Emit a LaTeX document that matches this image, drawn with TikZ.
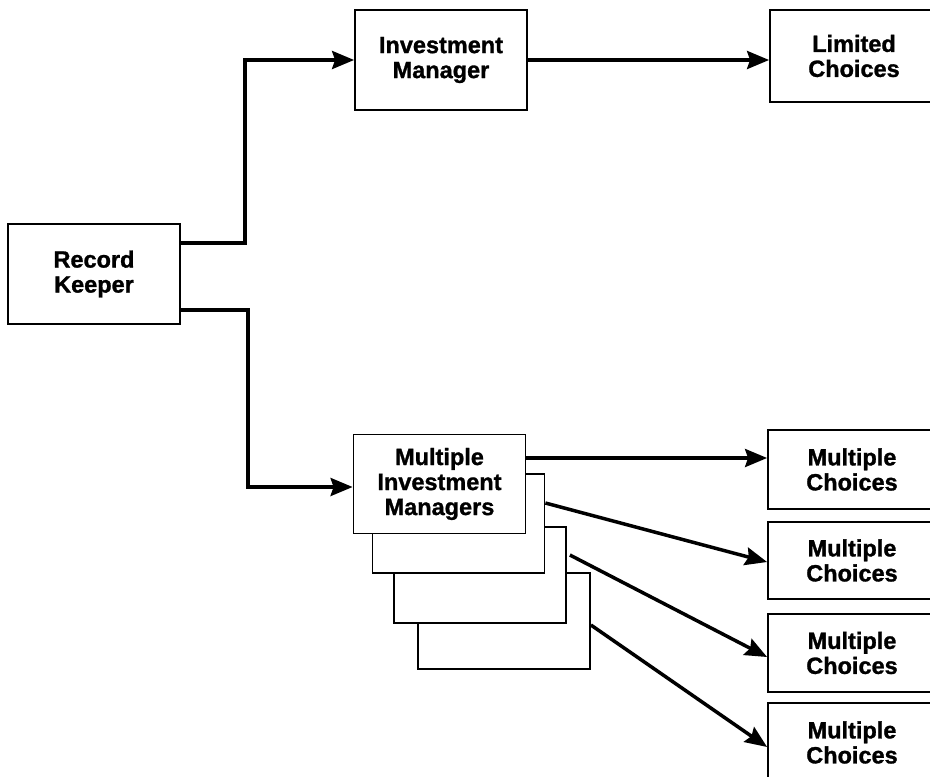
\documentclass[tikz,border=0pt]{standalone}
\usepackage{fontspec}
\setmainfont{Liberation Sans}[BoldFeatures={FakeBold=1.2}]
\usetikzlibrary{arrows.meta}
\begin{document}
\begin{tikzpicture}[x=1pt,y=-1pt,
  box/.style={draw, line width=1.8pt, fill=white, align=center, inner sep=0pt,
    font=\fontsize{23.5}{25}\selectfont\bfseries},
  wide/.style={box, minimum width=172pt, minimum height=99pt},
  choice/.style={box, minimum width=168pt, minimum height=79pt},
  link/.style={line width=3.5pt, -{Stealth[length=22pt,width=18pt,inset=3pt]}}]
\useasboundingbox (0,0) rectangle (930,777);
\clip (0,0) rectangle (930,777);

% source and the single-manager branch
\node[wide, minimum height=100pt] (rk) at (94,274) {Record\\Keeper};
\node[wide, minimum height=100pt] (im) at (441,60) {Investment\\Manager};
\node[choice, minimum height=92pt] (lc) at (854,56) {Limited\\Choices};

% stacked manager boxes, back to front
\node[wide, minimum height=96pt] (m4) at (504,621) {};
\node[wide, minimum height=96pt] (m3) at (480,575) {};
\node[wide] (m2) at (458.5,523.5) {};
\node[wide] (mim) at (439.5,484) {Multiple\\Investment\\Managers};

% choice boxes
\node[choice] (c1) at (852,469.5) {Multiple\\Choices};
\node[choice, minimum height=77pt] (c2) at (852,560.5) {Multiple\\Choices};
\node[choice, minimum height=78pt] (c3) at (852,653) {Multiple\\Choices};
\node[choice] (c4) at (852,742.5) {Multiple\\Choices};

% elbow points of the two branches
\coordinate (j1) at (245,243);
\coordinate (j2) at (248,310);

\draw[link] ([yshift=31pt]rk.east) -- (j1) |- (im.west);
\draw[link] ([yshift=-36pt]rk.east) -- (j2) |- ([yshift=-3pt]mim.west);
\draw[link] (im.east) -- (im.east -| lc.west);

\draw[link] ([yshift=26pt]mim.east) -- ([yshift=26pt]mim.east -| c1.west);
\draw[link] ([yshift=20.5pt]m2.east) -- ([yshift=-1.5pt]c2.west);
\draw[link] ([xshift=3pt,yshift=20pt]m3.east) -- ([yshift=-4pt]c3.west);
\draw[link] ([yshift=-4pt]m4.east) -- ([yshift=-4.5pt]c4.west);
\end{tikzpicture}
\end{document}
